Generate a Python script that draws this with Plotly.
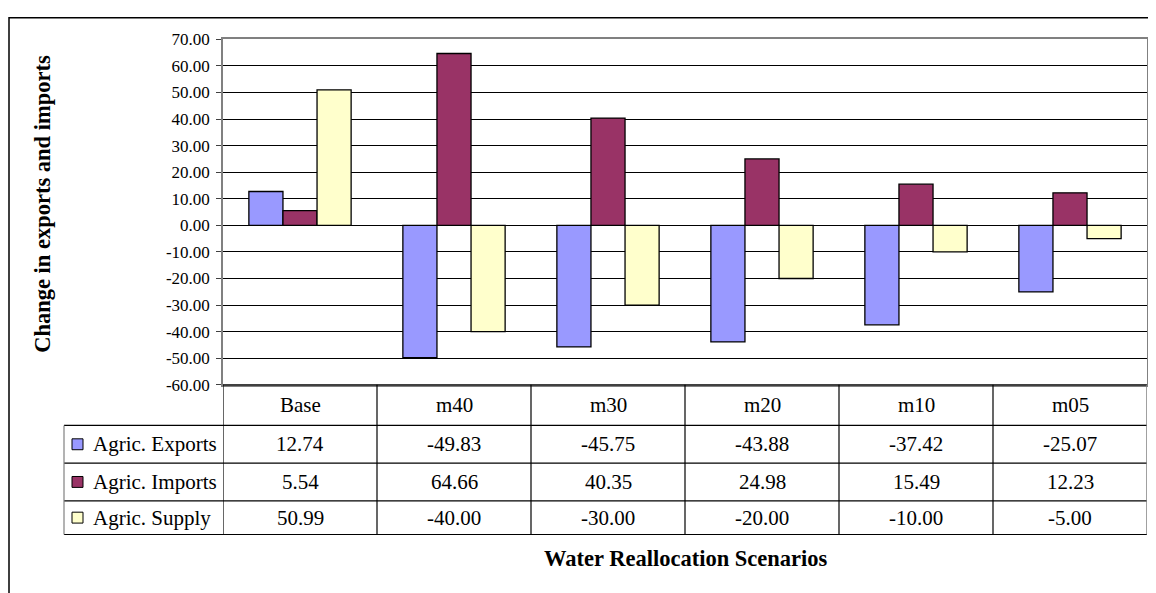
import plotly.graph_objects as go

categories = ["Base", "m40", "m30", "m20", "m10", "m05"]
exports = [12.74, -49.83, -45.75, -43.88, -37.42, -25.07]
imports = [5.54, 64.66, 40.35, 24.98, 15.49, 12.23]
supply = [50.99, -40.00, -30.00, -20.00, -10.00, -5.00]
series_names = ["Agric. Exports", "Agric. Imports", "Agric. Supply"]
series_values = [exports, imports, supply]
colors = ["#9999FF", "#993366", "#FFFFCC"]
y_ticks = [70, 60, 50, 40, 30, 20, 10, 0, -10, -20, -30, -40, -50, -60]

W, H = 1156, 593
FONT = "Liberation Serif, Times New Roman, serif"

# screen offset of the rendered page (measured)
OX, OY, PH = 8, 14, 579


def px(x):
    return (x - OX) / W


def py(y):
    return 1 - (y - OY) / PH


fig = go.Figure()
for name, vals, col in zip(series_names, series_values, colors):
    fig.add_trace(go.Bar(
        x=list(range(len(categories))), y=vals, name=name,
        marker=dict(color=col, line=dict(color="black", width=1.3)),
        showlegend=False,
    ))

shapes = []
annotations = []

plot_l, plot_r = 223, 1147
plot_t, plot_b = 36.5, 385
tbl_left = 64
y_top, y_hdr, y_rows = 385, 426, [464, 502, 536]
row_centers = [445, 483, 519]
line = dict(color="black", width=1.2)

shapes.append(dict(type="line", xref="paper", yref="paper", x0=px(plot_l), x1=px(plot_r),
                   y0=py(y_top), y1=py(y_top), line=line))
for yy in [y_hdr] + y_rows:
    shapes.append(dict(type="line", xref="paper", yref="paper", x0=px(tbl_left), x1=px(plot_r),
                       y0=py(yy), y1=py(yy), line=line))
n = len(categories)
for i in range(n + 1):
    shapes.append(dict(type="line", xref="x", yref="paper", x0=i - 0.5, x1=i - 0.5,
                       y0=py(y_top), y1=py(y_rows[-1]),
                       line=dict(color="#808080" if i == n else "black",
                                 width=1.5 if i == n else 1.2)))
shapes.append(dict(type="line", xref="paper", yref="paper", x0=px(tbl_left), x1=px(tbl_left),
                   y0=py(y_hdr), y1=py(y_rows[-1]), line=dict(color="#808080", width=1.2)))

for i, c in enumerate(categories):
    annotations.append(dict(x=i, y=py(405.5), xref="x", yref="paper", text=c, showarrow=False,
                            xanchor="center", yanchor="middle",
                            font=dict(family=FONT, size=21, color="black")))
for r, (name, vals, col) in enumerate(zip(series_names, series_values, colors)):
    cy = row_centers[r]
    shapes.append(dict(type="rect", xref="paper", yref="paper", x0=px(72), x1=px(83),
                       y0=py(cy - 5.5), y1=py(cy + 5.5), fillcolor=col,
                       line=dict(color="black", width=1)))
    annotations.append(dict(x=px(91), y=py(cy), xref="paper", yref="paper", text=name,
                            showarrow=False, xanchor="left", yanchor="middle",
                            font=dict(family=FONT, size=21, color="black")))
    for i, v in enumerate(vals):
        annotations.append(dict(x=i, y=py(cy), xref="x", yref="paper", text=f"{v:.2f}",
                                showarrow=False, xanchor="center", yanchor="middle",
                                font=dict(family=FONT, size=21, color="black")))

annotations.append(dict(x=px(686), y=py(560), xref="paper", yref="paper",
                        text="<b>Water Reallocation Scenarios</b>", showarrow=False,
                        xanchor="center", yanchor="middle",
                        font=dict(family=FONT, size=22.5, color="black")))
annotations.append(dict(x=px(42.5), y=py(203), xref="paper", yref="paper",
                        text="<b>Change in exports and imports</b>", showarrow=False,
                        xanchor="center", yanchor="middle",
                        textangle=-90, font=dict(family=FONT, size=22.5, color="black")))

# outer border
shapes.append(dict(type="rect", xref="paper", yref="paper", x0=px(9), x1=px(1200),
                   y0=py(14.8), y1=py(650), line=dict(color="black", width=1.5)))

fig.update_layout(
    width=W, height=H, autosize=False,
    margin=dict(l=0, r=0, t=0, b=0),
    paper_bgcolor="white", plot_bgcolor="white",
    barmode="group", bargap=0.336, bargroupgap=0,
    shapes=shapes, annotations=annotations,
    xaxis=dict(domain=[px(plot_l), px(plot_r)], range=[-0.5, n - 0.5],
               showticklabels=False, ticks="", showgrid=False, zeroline=False,
               showline=True, mirror=True, linecolor="#808080", linewidth=1.5),
    yaxis=dict(domain=[py(plot_b), py(plot_t)], range=[-60, 70],
               tickvals=y_ticks, ticktext=[f"{v:.2f}" for v in y_ticks],
               ticks="outside", ticklen=5, tickcolor="#404040", ticklabelstandoff=3,
               showgrid=True, gridcolor="black", gridwidth=1,
               zeroline=True, zerolinecolor="black", zerolinewidth=1.2,
               showline=True, mirror=True, linecolor="#808080", linewidth=1.5,
               tickfont=dict(family=FONT, size=17, color="black")),
)

fig.write_html("out.html")
